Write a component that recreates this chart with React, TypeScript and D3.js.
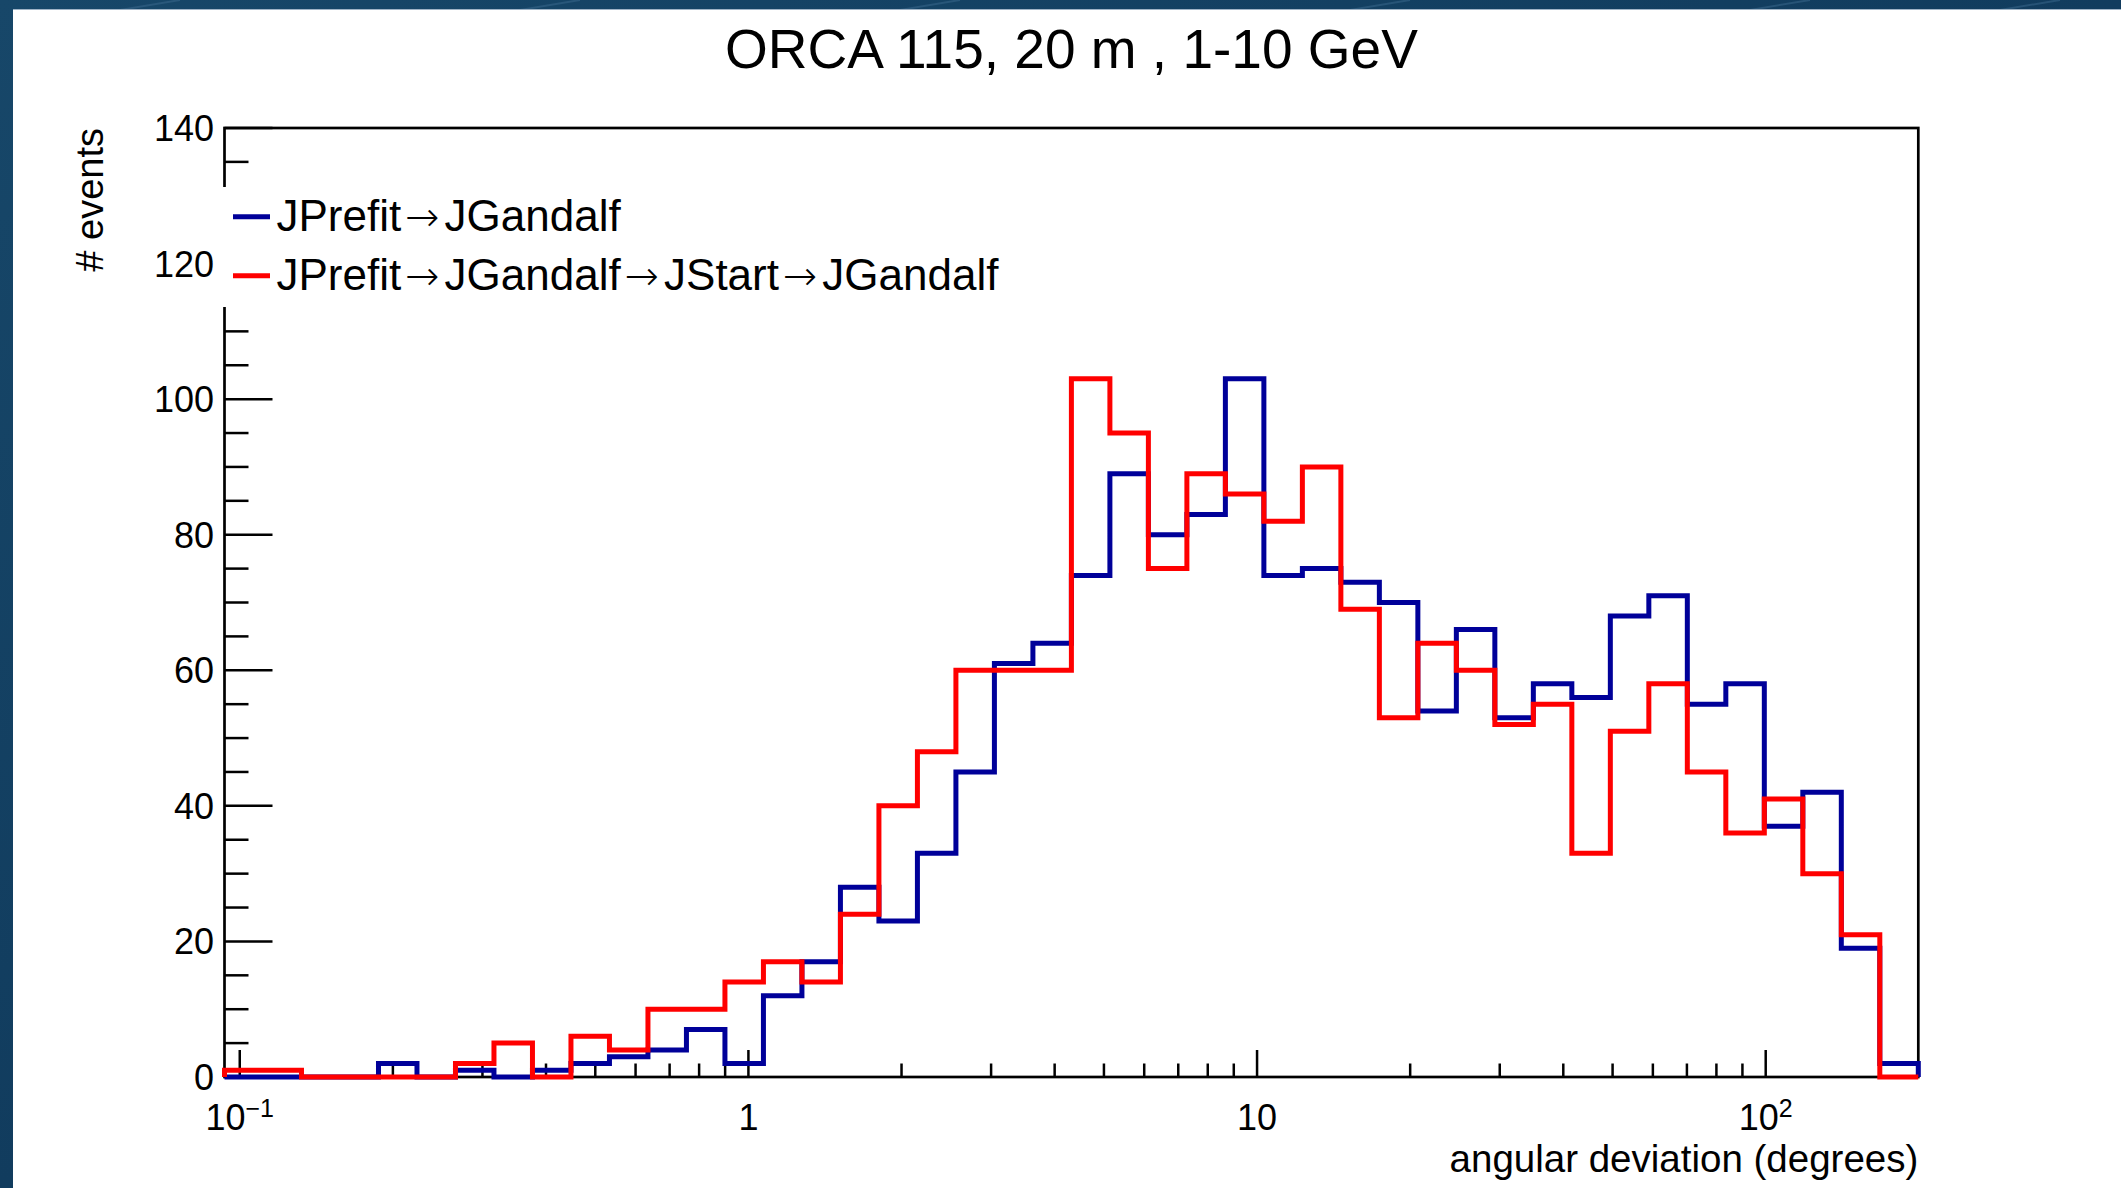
import React from 'react';
import * as d3 from 'd3';

const W = 2121;
const H = 1188;

// histogram binning (log-uniform bins)
const xMin = Math.pow(10, -1.03);
const xMax = Math.pow(10, 2.3);
const nBins = 44;

// series values (events per bin)
const countsJGandalf = [0, 0, 0, 0, 2, 0, 1, 0, 1, 2, 3, 4, 7, 2, 12, 17, 28, 23, 33, 45, 61, 64, 74, 89, 80, 83, 103, 74, 75, 73, 70, 54, 66, 53, 58, 56, 68, 71, 55, 58, 37, 42, 19, 2];
const countsJStart = [1, 1, 0, 0, 0, 0, 2, 5, 0, 6, 4, 10, 10, 14, 17, 14, 24, 40, 48, 60, 60, 60, 103, 95, 75, 89, 86, 82, 90, 69, 53, 64, 60, 52, 55, 33, 51, 58, 45, 36, 41, 30, 21, 0];

const yMax = 140;
const yTicksMajor = [0, 20, 40, 60, 80, 100, 120, 140];
const yMinorStep = 5;
const xTickLabels = [
  { value: 0.1, base: '10', exp: '\u22121' },
  { value: 1, base: '1', exp: '' },
  { value: 10, base: '10', exp: '' },
  { value: 100, base: '10', exp: '2' },
];
const title = 'ORCA 115, 20 m , 1-10 GeV';
const xTitle = 'angular deviation (degrees)';
const yTitle = '# events';
const legendLabels = ['JPrefit\u2192JGandalf', 'JPrefit\u2192JGandalf\u2192JStart\u2192JGandalf'];
const seriesColors = ['#000099', '#ff0000'];

const FONT = '"Liberation Sans", Arial, Helvetica, sans-serif';
const ARROW_FONT = '"DejaVu Sans", sans-serif';

function renderLabel(lab: string) {
  const parts = lab.split('\u2192');
  const out: React.ReactNode[] = [];
  parts.forEach((p, i) => {
    out.push(<tspan key={'p' + i} dx={i > 0 ? 5 : 0}>{p}</tspan>);
    if (i < parts.length - 1) {
      out.push(
        <tspan key={'a' + i} dx={4} fontFamily={ARROW_FONT} fontSize={41} fontWeight={200}>
          {'\u2192'}
        </tspan>
      );
    }
  });
  return out;
}

export default function App() {
  const L = 224.5, R = 1918.3, T = 128, B = 1077;
  const x = d3.scaleLog().domain([xMin, xMax]).range([L, R]);
  const y = d3.scaleLinear().domain([0, yMax]).range([B, T]);
  const lmin = Math.log10(xMin), lmax = Math.log10(xMax);
  const edges = d3.range(nBins + 1).map((i) => Math.pow(10, lmin + (i * (lmax - lmin)) / nBins));

  const stepPath = (counts: number[]) => {
    const pts: [number, number][] = [[edges[0], 0]];
    counts.forEach((c, i) => {
      pts.push([edges[i], c]);
      pts.push([edges[i + 1], c]);
    });
    pts.push([edges[nBins], 0]);
    return d3.line<[number, number]>().x((d) => x(d[0])).y((d) => y(d[1]))(pts) || '';
  };

  const yMinor = d3.range(0, yMax + 0.001, yMinorStep).filter((v) => v % 20 !== 0);
  const majorsX = xTickLabels.map((t) => t.value);
  const xMinor: number[] = [];
  for (let d = -2; d <= 2; d++) {
    for (let k = 2; k <= 9; k++) {
      const v = k * Math.pow(10, d);
      if (v > xMin && v < xMax) xMinor.push(v);
    }
  }

  const legendY = [216.8, 275.8];

  return (
    <svg width={W} height={H} style={{ position: 'absolute', left: 0, top: 0, display: 'block' }} fontFamily={FONT}>
      <defs>
        <linearGradient id="bg" x1="0" y1="0" x2="1" y2="1">
          <stop offset="0" stopColor="#174769" />
          <stop offset="0.5" stopColor="#113c5e" />
          <stop offset="1" stopColor="#0c3050" />
        </linearGradient>
      </defs>
      <rect x={0} y={0} width={W} height={H} fill="url(#bg)" />
      {[120, 520, 900, 1350, 1750, 2000].map((sx, i) => (
        <line key={i} x1={sx} y1={10} x2={sx + 60} y2={0} stroke="#3b6a8e" strokeOpacity={0.5} strokeWidth={2} />
      ))}
      <rect x={13} y={9.5} width={W - 13} height={H - 9.5} fill="#ffffff" />
      <line x1={13} y1={9.5} x2={W} y2={9.5} stroke="#9fb3c6" strokeWidth={1.2} />

      {/* title */}
      <text x={(L + R) / 2} y={68} textAnchor="middle" fontSize={55} fill="#000">{title}</text>

      {/* frame */}
      <rect x={L} y={T} width={R - L} height={B - T} fill="none" stroke="#000" strokeWidth={2.7} />

      {/* y ticks */}
      {yTicksMajor.map((v) => (
        <line key={'ym' + v} x1={L} x2={L + 48} y1={y(v)} y2={y(v)} stroke="#000" strokeWidth={2.5} />
      ))}
      {yMinor.map((v) => (
        <line key={'yn' + v} x1={L} x2={L + 24} y1={y(v)} y2={y(v)} stroke="#000" strokeWidth={2.5} />
      ))}
      {yTicksMajor.map((v) => (
        <text key={'yl' + v} x={214} y={y(v)} dy="0.36em" textAnchor="end" fontSize={36} fill="#000">{v}</text>
      ))}

      {/* x ticks */}
      {majorsX.map((v) => (
        <line key={'xm' + v} x1={x(v)} x2={x(v)} y1={B} y2={B - 27} stroke="#000" strokeWidth={2.5} />
      ))}
      {xMinor.map((v) => (
        <line key={'xn' + v} x1={x(v)} x2={x(v)} y1={B} y2={B - 13.5} stroke="#000" strokeWidth={2.5} />
      ))}
      {xTickLabels.map((t) => (
        <text key={'xl' + t.value} x={x(t.value)} y={1130} textAnchor="middle" fontSize={36} fill="#000">
          {t.base}
          {t.exp ? (
            <tspan fontSize={25} dy={-13}>{t.exp}</tspan>
          ) : null}
        </text>
      ))}

      {/* axis titles */}
      <text x={R} y={1172} textAnchor="end" fontSize={38.5} fill="#000">{xTitle}</text>
      <text transform={`translate(103,${T}) rotate(-90)`} textAnchor="end" fontSize={38} fill="#000">{yTitle}</text>

      {/* histograms */}
      {[countsJGandalf, countsJStart].map((c, i) => (
        <path key={'h' + i} d={stepPath(c)} fill="none" stroke={seriesColors[i]} strokeWidth={5} strokeLinejoin="miter" strokeLinecap="butt" />
      ))}

      {/* legend */}
      <rect x={221} y={187} width={800} height={120} fill="#ffffff" />
      {legendLabels.map((lab, i) => (
        <g key={'lg' + i}>
          <line x1={233} x2={270} y1={legendY[i]} y2={legendY[i]} stroke={seriesColors[i]} strokeWidth={5} />
          <text x={276.5} y={legendY[i] + 14} fontSize={44} fill="#000">{renderLabel(lab)}</text>
        </g>
      ))}
    </svg>
  );
}
